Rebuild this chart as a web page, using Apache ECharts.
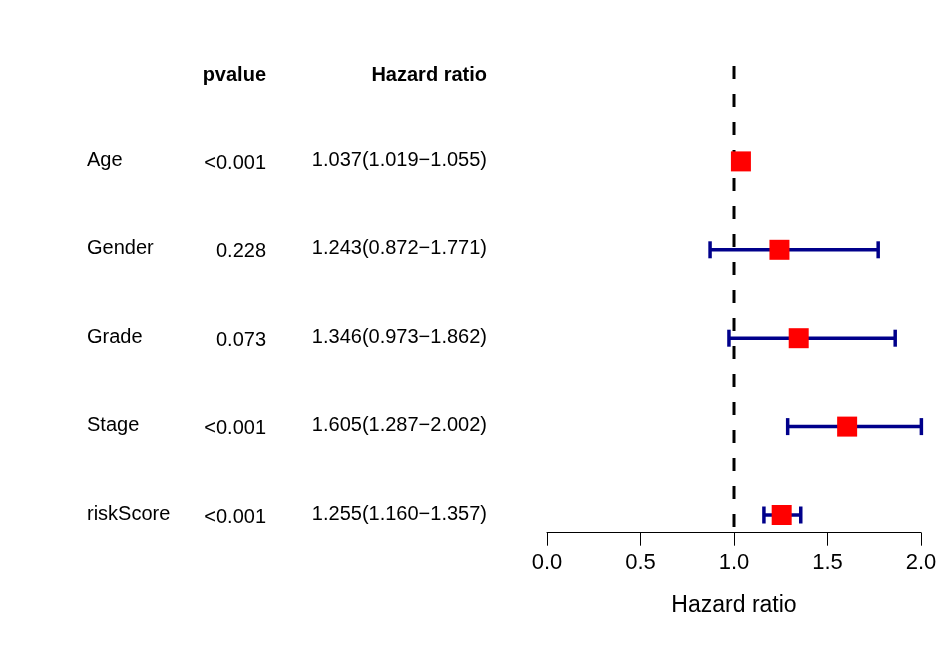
<!DOCTYPE html>
<html>
<head>
<meta charset="utf-8">
<script src="https://cdn.jsdelivr.net/npm/echarts@6/dist/echarts.min.js"></script>
<style>html,body{margin:0;padding:0;background:#fff}#c{width:950px;height:648px}</style>
</head>
<body>
<div id="c"></div>
<script>
// ---- data ----
var variables = ['Age', 'Gender', 'Grade', 'Stage', 'riskScore'];
var pvalues = ['<0.001', '0.228', '0.073', '<0.001', '<0.001'];
var hr = [1.037, 1.243, 1.346, 1.605, 1.255];
var hrLow = [1.019, 0.872, 0.973, 1.287, 1.160];
var hrHigh = [1.055, 1.771, 1.862, 2.002, 1.357];
var headers = ['pvalue', 'Hazard ratio'];
var xTicks = [0, 0.5, 1, 1.5, 2];
var refLine = 1;

// ---- style constants ----
var FONT = "'Liberation Sans', Arial, Helvetica, sans-serif";
var ROW_H = 88.4;
var TOP = 73 - 0.5 * ROW_H;
var Y_MIN = -0.5, Y_MAX = 5.2;
var COL_LABEL = 87, COL_P = 266, COL_HR = 487;

var hrText = hr.map(function (v, i) {
  return v.toFixed(3) + '(' + hrLow[i].toFixed(3) + '\u2212' + hrHigh[i].toFixed(3) + ')';
});

// table rows: [x-col, row, text, align, bold, dy]
var tableData = [];
tableData.push([COL_P, 0, headers[0], 'right', 1, 2]);
tableData.push([COL_HR, 0, headers[1], 'right', 1, 2]);
variables.forEach(function (v, i) {
  tableData.push([COL_LABEL, i + 1, v, 'left', 0, -1]);
  tableData.push([COL_P, i + 1, pvalues[i], 'right', 0, 2]);
  tableData.push([COL_HR, i + 1, hrText[i], 'right', 0, -1]);
});

var ciData = variables.map(function (v, i) { return [hrLow[i], hrHigh[i], i + 1]; });
var ptData = variables.map(function (v, i) { return [hr[i], i + 1]; });

var chart = echarts.init(document.getElementById('c'), null, { renderer: 'canvas' });
var yBase = { type: 'value', inverse: true, min: Y_MIN, max: Y_MAX, show: false };
chart.setOption({
  animation: false,
  backgroundColor: '#ffffff',
  grid: [
    { left: 547, width: 374, top: TOP, height: (Y_MAX - Y_MIN) * ROW_H },
    { left: 0, width: 950, top: TOP, height: (Y_MAX - Y_MIN) * ROW_H }
  ],
  xAxis: [
    {
      gridIndex: 0, type: 'value', position: 'bottom',
      min: xTicks[0], max: xTicks[xTicks.length - 1], interval: 0.5,
      axisLine: { show: true, onZero: false, lineStyle: { color: '#000', width: 1 } },
      axisTick: { show: true, length: 13, lineStyle: { color: '#000', width: 1 } },
      axisLabel: { margin: 19, fontSize: 22, color: '#000', fontFamily: FONT,
        formatter: function (v) { return v.toFixed(1); } },
      splitLine: { show: false },
      name: 'Hazard ratio', nameLocation: 'middle', nameGap: 61,
      nameTextStyle: { fontSize: 23, color: '#000', fontFamily: FONT }
    },
    { gridIndex: 1, type: 'value', min: 0, max: 950, show: false }
  ],
  yAxis: [
    Object.assign({ gridIndex: 0 }, yBase),
    Object.assign({ gridIndex: 1 }, yBase)
  ],
  series: [
    {
      type: 'line', xAxisIndex: 0, yAxisIndex: 0,
      data: [[refLine, -0.08], [refLine, Y_MAX]],
      symbol: 'none', silent: true, z: 1,
      lineStyle: { color: '#000', width: 3, type: [13, 15] }
    },
    {
      type: 'custom', xAxisIndex: 0, yAxisIndex: 0, z: 2,
      data: ciData,
      renderItem: function (params, api) {
        var a = api.coord([api.value(0), api.value(2)]);
        var b = api.coord([api.value(1), api.value(2)]);
        var st = { stroke: '#00008B', lineWidth: 3.5 };
        var cap = 8.5;
        return {
          type: 'group',
          children: [
            { type: 'line', shape: { x1: a[0], y1: a[1], x2: b[0], y2: b[1] }, style: st },
            { type: 'line', shape: { x1: a[0], y1: a[1] - cap, x2: a[0], y2: a[1] + cap }, style: st },
            { type: 'line', shape: { x1: b[0], y1: b[1] - cap, x2: b[0], y2: b[1] + cap }, style: st }
          ]
        };
      }
    },
    {
      type: 'scatter', xAxisIndex: 0, yAxisIndex: 0, z: 3,
      data: ptData, symbol: 'rect', symbolSize: 20,
      itemStyle: { color: '#FF0000', opacity: 1 }
    },
    {
      type: 'custom', xAxisIndex: 1, yAxisIndex: 1, z: 4,
      data: tableData,
      renderItem: function (params, api) {
        var d = tableData[params.dataIndex];
        var p = api.coord([d[0], d[1]]);
        return {
          type: 'text',
          x: p[0], y: p[1] + d[5],
          style: {
            text: d[2], fill: '#000', fontSize: 20, fontFamily: FONT,
            fontWeight: d[4] ? 'bold' : 'normal',
            align: d[3], verticalAlign: 'middle'
          }
        };
      }
    }
  ]
});
</script>
</body>
</html>
